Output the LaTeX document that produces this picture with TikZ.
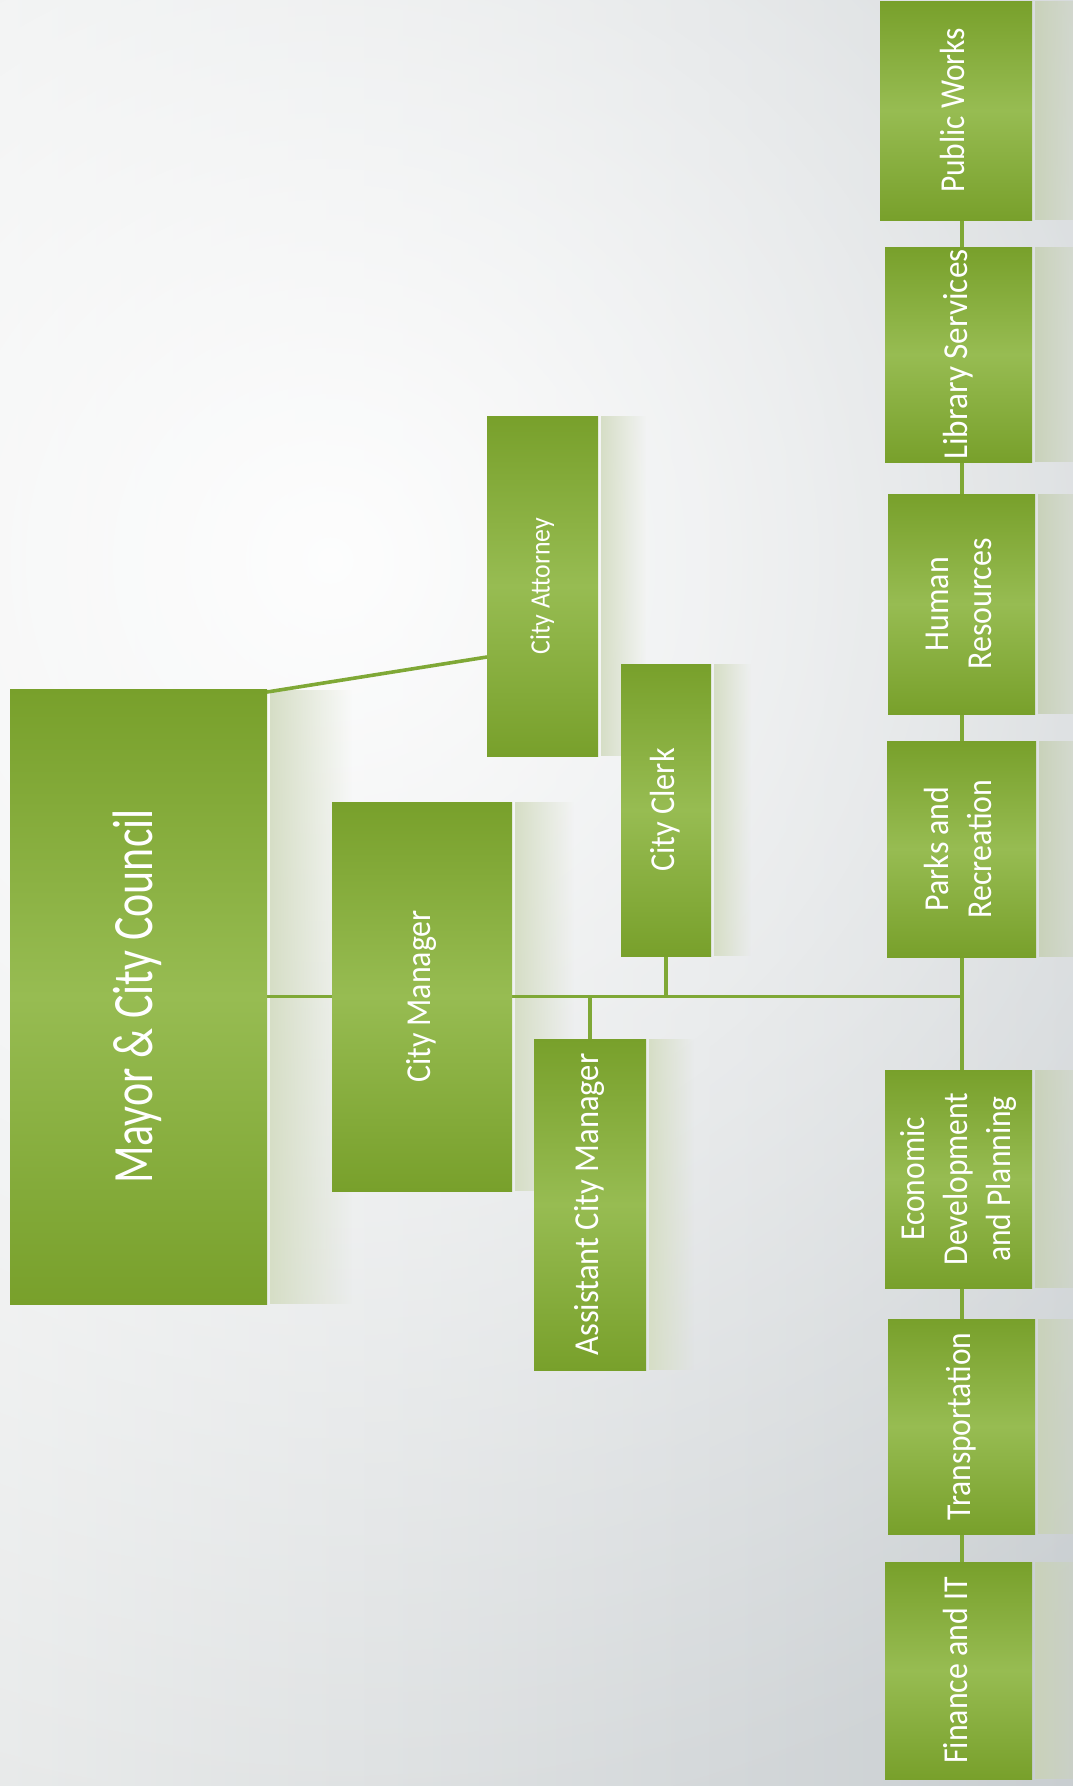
\documentclass[tikz,border=0pt]{standalone}
\usepackage{fontspec}
\setmainfont{Carlito}
\usepackage{graphicx}
\usetikzlibrary{fadings}
\definecolor{gdark}{HTML}{78A02B}
\definecolor{glight}{HTML}{97BC52}
\definecolor{lineg}{HTML}{7FA836}
\definecolor{bgL}{HTML}{E8EAEA}
\definecolor{bgR}{HTML}{C9CED1}
\definecolor{shd}{HTML}{D6DEC6}
\definecolor{shdd}{HTML}{C9D2BA}
\tikzfading[name=fadeR, left color=transparent!0, right color=transparent!100]
\tikzfading[name=glow, inner color=transparent!0, outer color=transparent!100]
\pgfdeclarelayer{bg}
\pgfsetlayers{bg,main}
\newcommand\lbl[4]{\rotatebox{90}{\scalebox{#3}[1]{\fontsize{#1}{#2}\selectfont\begin{tabular}{@{}c@{}}#4\end{tabular}}}}
\begin{document}
\begin{tikzpicture}[x=1pt,y=-1pt,
  box/.style={top color=gdark, bottom color=gdark, middle color=glight, text=white, inner sep=0pt, outer sep=0pt},
  conn/.style={draw=lineg, line width=3.6pt},
  shadowbox/.style={fill=shd, path fading=fadeR},
  shadowdept/.style={fill=shdd, path fading=fadeR}]
\useasboundingbox (0,0) rectangle (1073,1786);

% top level
\node[box, minimum width=257pt, minimum height=615pt] (mayor) at (138.5,996.5) {\lbl{57}{70}{0.77}{Mayor \& City Council}};
\node[box, minimum width=180pt, minimum height=389pt] (cm) at (422,996.5) {\lbl{35}{43}{0.91}{City Manager}};
\node[box, minimum width=111pt, minimum height=340pt] (att) at (542.5,586) {\lbl{28}{36}{0.92}{City Attorney}};
\node[box, minimum width=90pt, minimum height=292pt] (clerk) at (666,810) {\lbl{35}{43}{0.92}{City Clerk}};
\node[box, minimum width=112pt, minimum height=331pt] (acm) at (590,1204.5) {\lbl{35}{43}{0.93}{Assistant City Manager}};

% departments
\node[box, minimum width=152pt, minimum height=219pt] (pw) at (956,110.5) {\lbl{35}{43}{0.9}{Public Works}};
\node[box, minimum width=147pt, minimum height=215pt] (lib) at (958.5,354.5) {\lbl{35}{43}{0.95}{Library Services}};
\node[box, minimum width=147pt, minimum height=220pt] (hr) at (961.5,604) {\lbl{35}{43}{0.91}{Human\\Resources}};
\node[box, minimum width=149pt, minimum height=216pt] (parks) at (961.5,849) {\lbl{35}{43}{0.91}{Parks and\\Recreation}};
\node[box, minimum width=147pt, minimum height=218pt] (econ) at (958.5,1179) {\lbl{35}{43}{0.9}{Economic\\Development\\and Planning}};
\node[box, minimum width=147pt, minimum height=215pt] (trans) at (961.5,1426.5) {\lbl{35}{43}{0.9}{Transportation}};
\node[box, minimum width=147pt, minimum height=217pt] (fin) at (958.5,1670.5) {\lbl{35}{43}{0.91}{Finance and IT}};

\coordinate (bus) at (962,996.5);

\begin{pgfonlayer}{bg}
  \shade[left color=bgL, right color=bgR] (0,0) rectangle (1073,1786);
  \begin{scope}
    \clip (0,0) rectangle (1073,1786);
    \fill[white, path fading=glow, fill opacity=0.95] (330,560) circle (1300);
  \end{scope}
  % shadows
  \fill[shadowbox] ([xshift=3pt]mayor.north east) rectangle ([xshift=85pt]mayor.south east);
  \fill[shadowbox] ([xshift=3pt]cm.north east) rectangle ([xshift=62pt]cm.south east);
  \fill[shadowbox] ([xshift=3pt]att.north east) rectangle ([xshift=48pt]att.south east);
  \fill[shadowbox] ([xshift=3pt]clerk.north east) rectangle ([xshift=40pt]clerk.south east);
  \fill[shadowbox] ([xshift=3pt]acm.north east) rectangle ([xshift=48pt]acm.south east);
  \foreach \n in {pw,lib,hr,parks,econ,trans,fin}{
    \fill[shadowdept] ([xshift=3pt]\n.north east) rectangle ([xshift=70pt]\n.south east);
  }
  % connectors
  \draw[conn] (mayor.east) -- (cm.west);
  \draw[conn] ([yshift=-3pt]mayor.north east) -- ([yshift=-71pt]att.west);
  \draw[conn] (cm.east) -- (bus);
  \draw[conn] (clerk.south) -- (clerk.south |- bus);
  \draw[conn] (acm.north) -- (acm.north |- bus);
  \draw[conn] (pw.south -| bus) -- (lib.north -| bus);
  \draw[conn] (lib.south -| bus) -- (hr.north -| bus);
  \draw[conn] (hr.south -| bus) -- (parks.north -| bus);
  \draw[conn] (parks.south -| bus) -- (bus);
  \draw[conn] (bus) -- (econ.north -| bus);
  \draw[conn] (econ.south -| bus) -- (trans.north -| bus);
  \draw[conn] (trans.south -| bus) -- (fin.north -| bus);
\end{pgfonlayer}
\end{tikzpicture}
\end{document}
